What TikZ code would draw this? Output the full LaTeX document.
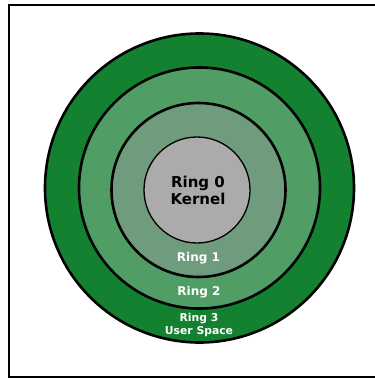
\documentclass[tikz,border=0pt]{standalone}
\usepackage{fontspec}
\setmainfont{DejaVu Sans}
\definecolor{gOuter}{HTML}{138130}
\definecolor{gMid}{HTML}{509E65}
\definecolor{gIn}{HTML}{6F9C7D}
\definecolor{gCore}{HTML}{ABABAB}
\tikzset{
  ring/.style={draw=black, line width=2.6pt},
  core/.style={draw=black, line width=1.3pt},
  wlabel/.style={text=white, font=\bfseries, align=center, inner sep=0pt},
}
\begin{document}
\begin{tikzpicture}[x=1pt,y=-1pt]
\useasboundingbox (0,0) rectangle (375,378);
\fill[white] (0,0) rectangle (375,378);
\draw[line width=1.6pt] (9,5) rectangle (385,377);
\path[ring, fill=gOuter] (199.5,188) circle (154.5);
\path[ring, fill=gMid] (199.5,188) circle (120.5);
\path[ring, fill=gIn] (198.5,190) circle (87);
\path[core, fill=gCore] (197,190) circle (53);
\node[font=\bfseries\fontsize{15}{17}\selectfont, align=center, inner sep=0pt] (k) at (198,190.5) {Ring 0\\Kernel};
\node[wlabel, font=\bfseries\fontsize{12}{13}\selectfont] (r1) at (198.5,258) {Ring 1};
\node[wlabel, font=\bfseries\fontsize{12}{13}\selectfont] (r2) at (199,292) {Ring 2};
\node[wlabel, font=\bfseries\fontsize{10.8}{13}\selectfont] (r3) at (199,325.5) {Ring 3\\User Space};
\end{tikzpicture}
\end{document}
